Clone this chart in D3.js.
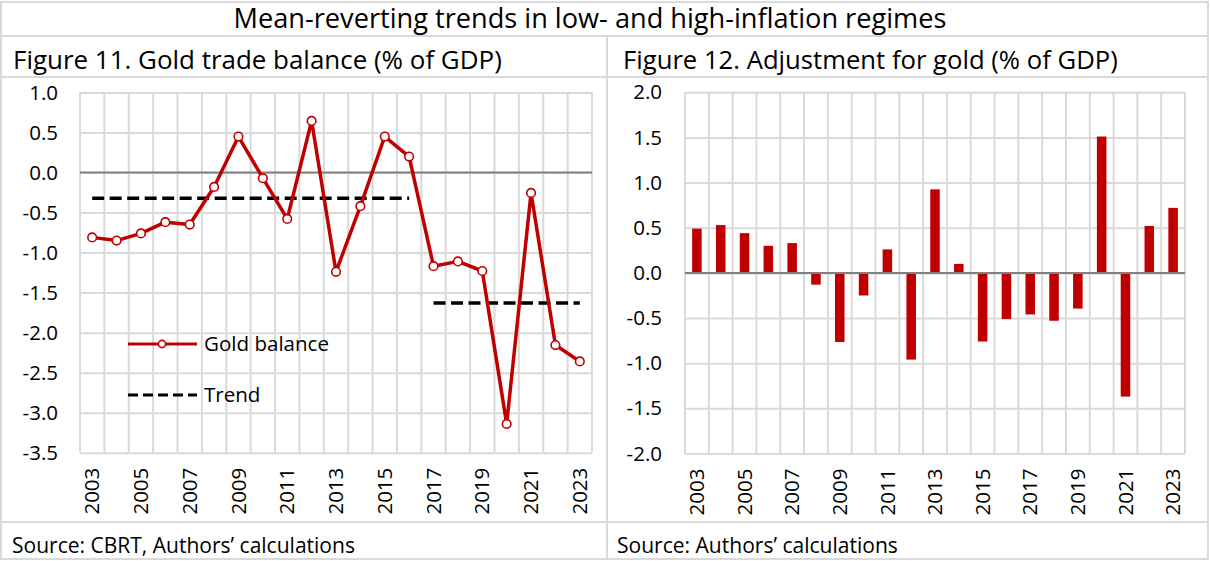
<!DOCTYPE html>
<html><head><meta charset="utf-8">
<script src="https://cdn.jsdelivr.net/npm/d3@7"></script>
<style>
html,body{margin:0;padding:0;background:#fff;}
svg{display:block;font-family:"Open Sans",sans-serif;}
</style></head>
<body>
<svg id="c" width="1210" height="561"></svg>
<script>
// ---------------- data ----------------
const years = ["2003","2004","2005","2006","2007","2008","2009","2010","2011","2012","2013",
               "2014","2015","2016","2017","2018","2019","2020","2021","2022","2023"];
const labelYears = ["2003","2005","2007","2009","2011","2013","2015","2017","2019","2021","2023"];
const goldBalance = [-0.81,-0.85,-0.76,-0.62,-0.65,-0.18,0.45,-0.07,-0.58,0.645,-1.24,
                     -0.42,0.45,0.20,-1.17,-1.11,-1.23,-3.14,-0.255,-2.155,-2.36];
const trendLowYears = ["2003","2004","2005","2006","2007","2008","2009","2010","2011","2012","2013","2014","2015","2016"];
const trendLowValue = -0.32;
const trendHighYears = ["2017","2018","2019","2020","2021","2022","2023"];
const trendHighValue = -1.63;
const adjustment = [0.49,0.53,0.44,0.30,0.33,-0.13,-0.765,-0.25,0.26,-0.96,0.925,
                    0.10,-0.76,-0.51,-0.46,-0.53,-0.395,1.51,-1.37,0.52,0.72];
const yTicksLeft = [1.0,0.5,0.0,-0.5,-1.0,-1.5,-2.0,-2.5,-3.0,-3.5];
const yTicksRight = [2.0,1.5,1.0,0.5,0.0,-0.5,-1.0,-1.5,-2.0];
const mainTitle = "Mean-reverting trends in low- and high-inflation regimes";
const title11 = "Figure 11. Gold trade balance (% of GDP)";
const title12 = "Figure 12. Adjustment for gold (% of GDP)";
const source11 = "Source: CBRT, Authors’ calculations";
const source12 = "Source: Authors’ calculations";
const legendLabels = ["Gold balance","Trend"];

// ---------------- style ----------------
const RED = "#c00000", GRID = "#d9d9d9", ZERO = "#808080", TXT = "#000";
const svg = d3.select("#c");
const fmt = d => d.toFixed(1);

function fit(sel, w){
  const n = sel.node(); const fs = parseFloat(sel.attr("font-size"));
  const l = n.getComputedTextLength();
  sel.attr("font-size", fs*w/l);
}

// table frame
const frame = svg.append("g").attr("stroke", GRID).attr("stroke-width", 2).attr("fill","none");
frame.append("rect").attr("x",1).attr("y",2).attr("width",1207).attr("height",557);
frame.append("line").attr("x1",1).attr("x2",1208).attr("y1",36).attr("y2",36);
frame.append("line").attr("x1",1).attr("x2",1208).attr("y1",77).attr("y2",77);
frame.append("line").attr("x1",1).attr("x2",1208).attr("y1",522).attr("y2",522);
frame.append("line").attr("x1",607).attr("x2",607).attr("y1",36).attr("y2",559);

// texts
const t0 = svg.append("text").attr("x",590).attr("y",28).attr("text-anchor","middle")
  .attr("font-size",22).attr("fill",TXT).text(mainTitle); fit(t0, 713);
const t1 = svg.append("text").attr("x",13).attr("y",69).attr("font-size",24).attr("fill",TXT).text(title11); fit(t1, 489);
const t2 = svg.append("text").attr("x",623).attr("y",69).attr("font-size",24).attr("fill",TXT).text(title12); fit(t2, 495);
const s1 = svg.append("text").attr("x",12).attr("y",553).attr("font-size",20).attr("fill",TXT).text(source11); fit(s1, 343);
const s2 = svg.append("text").attr("x",617).attr("y",553).attr("font-size",20).attr("fill",TXT).text(source12); fit(s2, 281);

// generic grid + axes
function chartBase(x, y, yTicks, yLabelRight){
  const g = svg.append("g");
  const [x0,x1] = x.range(), [y0,y1] = y.range();
  g.append("g").attr("transform",`translate(${x0},0)`)
    .call(d3.axisLeft(y).tickValues(yTicks).tickSize(-(x1-x0)).tickFormat(""))
    .call(a=>a.select(".domain").remove())
    .call(a=>a.selectAll("line").attr("stroke",GRID).attr("stroke-width",2));
  const bounds = x.domain().map(d=>x(d)).concat([x1]);
  g.append("g").selectAll("line").data(bounds).join("line")
    .attr("x1",d=>d).attr("x2",d=>d).attr("y1",y.range()[1]).attr("y2",y.range()[0])
    .attr("stroke",GRID).attr("stroke-width",2);
  g.append("g").attr("transform",`translate(${yLabelRight},0)`)
    .call(d3.axisLeft(y).tickValues(yTicks).tickSize(0).tickPadding(0).tickFormat(fmt))
    .call(a=>a.select(".domain").remove())
    .call(a=>a.selectAll("text").attr("font-size",20.5).attr("font-family","Open Sans").attr("fill",TXT));
  g.append("g").attr("transform",`translate(0,${y0})`)
    .call(d3.axisBottom(x).tickValues(labelYears).tickSize(0).tickPadding(0))
    .call(a=>a.select(".domain").remove())
    .call(a=>a.selectAll("text").attr("font-size",20.5).attr("font-family","Open Sans").attr("fill",TXT)
       .attr("transform","rotate(-90)").attr("text-anchor","end").attr("dy","0.35em")
       .attr("x",-15).attr("y",0));
  g.append("line").attr("x1",x0).attr("x2",x1).attr("y1",y(0)).attr("y2",y(0))
    .attr("stroke",ZERO).attr("stroke-width",2);
  return g;
}

// ---------------- Figure 11 ----------------
const xL = d3.scaleBand().domain(years).range([80,592]).padding(0);
const yL = d3.scaleLinear().domain([-3.5,1.0]).range([452.7,92.5]);
chartBase(xL, yL, yTicksLeft, 58);
const cx = d => xL(d)+xL.bandwidth()/2;

svg.append("path").datum(trendLowYears)
  .attr("d", d3.line().x(d=>cx(d)).y(()=>yL(trendLowValue)))
  .attr("fill","none").attr("stroke","#000").attr("stroke-width",3.5).attr("stroke-dasharray","12,5.5");
svg.append("path").datum(trendHighYears)
  .attr("d", d3.line().x(d=>cx(d)).y(()=>yL(trendHighValue)))
  .attr("fill","none").attr("stroke","#000").attr("stroke-width",3.5).attr("stroke-dasharray","12,5.5");

const gb = years.map((d,i)=>({year:d, v:goldBalance[i]}));
svg.append("path").datum(gb)
  .attr("d", d3.line().x(d=>cx(d.year)).y(d=>yL(d.v)))
  .attr("fill","none").attr("stroke",RED).attr("stroke-width",3.5).attr("stroke-linejoin","round");
svg.append("g").selectAll("circle").data(gb).join("circle")
  .attr("cx",d=>cx(d.year)).attr("cy",d=>yL(d.v)).attr("r",4.3)
  .attr("fill","#fff").attr("stroke",RED).attr("stroke-width",1.6);

// legend
const lg = svg.append("g");
lg.append("line").attr("x1",128).attr("x2",197).attr("y1",344).attr("y2",344).attr("stroke",RED).attr("stroke-width",3);
lg.append("circle").attr("cx",162).attr("cy",344).attr("r",3.6).attr("fill","#fff").attr("stroke",RED).attr("stroke-width",1.6);
lg.append("line").attr("x1",128).attr("x2",197).attr("y1",395).attr("y2",395).attr("stroke","#000").attr("stroke-width",3).attr("stroke-dasharray","10,5");
const l1 = lg.append("text").attr("x",204).attr("y",344).attr("dy","0.35em").attr("font-size",20).attr("fill",TXT).text(legendLabels[0]); fit(l1,125);
const l2 = lg.append("text").attr("x",204).attr("y",395).attr("dy","0.35em").attr("font-size",20).attr("fill",TXT).text(legendLabels[1]); l2.attr("font-size", l1.attr("font-size"));

// ---------------- Figure 12 ----------------
const xR = d3.scaleBand().domain(years).range([685,1185]).padding(0);
const yR = d3.scaleLinear().domain([-2.0,2.0]).range([453.5,92.3]);
chartBase(xR, yR, yTicksRight, 662);
const bw = xR.bandwidth()*0.4;
svg.append("g").selectAll("rect").data(years.map((d,i)=>({year:d,v:adjustment[i]}))).join("rect")
  .attr("x",d=>xR(d.year)+xR.bandwidth()/2-bw/2).attr("width",bw)
  .attr("y",d=>yR(Math.max(0,d.v))).attr("height",d=>Math.abs(yR(d.v)-yR(0)))
  .attr("fill",RED);
svg.append("line").attr("x1",685).attr("x2",1185).attr("y1",yR(0)).attr("y2",yR(0)).attr("stroke",ZERO).attr("stroke-width",2);
</script>
</body></html>
